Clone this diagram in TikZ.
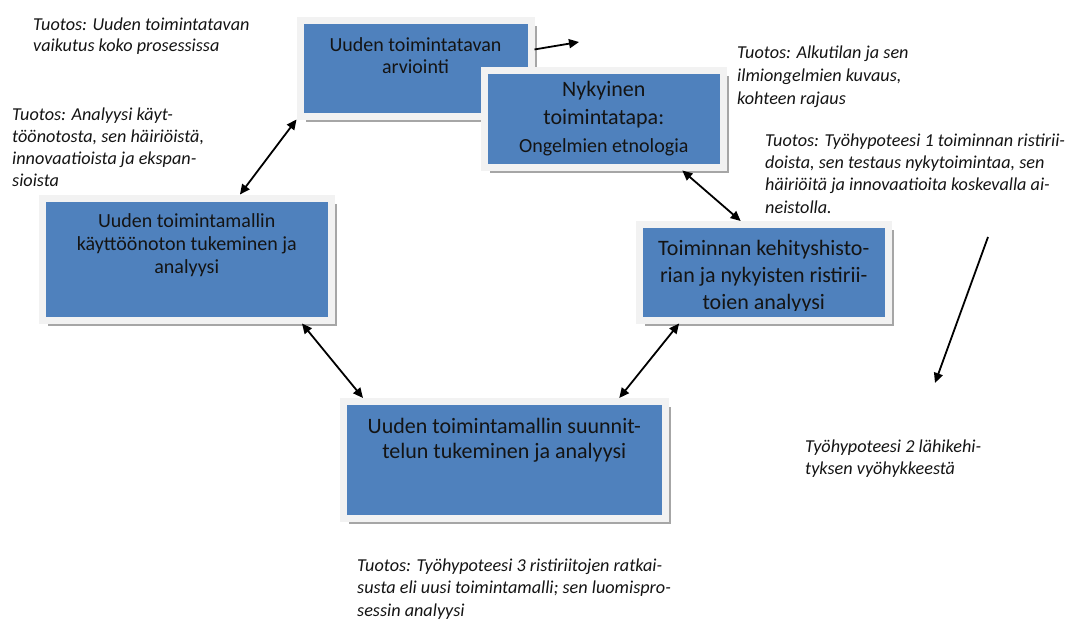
\documentclass[tikz,border=0pt]{standalone}
\usepackage{fontspec}
\setmainfont{Carlito}
\usetikzlibrary{calc,arrows.meta,shadows}
\definecolor{boxblue}{HTML}{4F81BD}
\definecolor{framegray}{HTML}{F2F2F2}
\definecolor{shadowgray}{HTML}{A6A6A6}
\definecolor{inktext}{HTML}{141414}
\begin{document}
\begin{tikzpicture}[x=1pt,y=-1pt,
  stagebox/.style={draw=framegray, line width=7pt, fill=boxblue, inner sep=0pt,
    general shadow={shadow xshift=5.5pt, shadow yshift=-5.5pt, fill=shadowgray}},
  boxtext/.style={align=center, anchor=base, inner sep=0pt, text=inktext},
  note/.style={align=left, anchor=base west, inner sep=0pt, text=inktext},
  link/.style={line width=1.8pt, {Triangle[length=10pt,width=9pt]}-{Triangle[length=10pt,width=9pt]}},
  onearrow/.style={line width=1.8pt, -{Triangle[length=10pt,width=9pt]}}]
\useasboundingbox[fill=white] (0,0) rectangle (1074,621);

% boxes
\node[stagebox, minimum width=231pt, minimum height=96pt] (b1) at (415.5,68) {};
\node[stagebox, minimum width=238.5pt, minimum height=97pt] (b2) at (603.75,118.5) {};
\node[stagebox, minimum width=288.5pt, minimum height=122pt] (bl) at (186.75,259) {};
\node[stagebox, minimum width=249.5pt, minimum height=95.5pt] (br) at (763.75,272.25) {};
\node[stagebox, minimum width=321.5pt, minimum height=117pt] (bb) at (504.25,460) {};

% box texts (positioned by the baseline of their last line)
\node[boxtext, font=\fontsize{20}{22}\selectfont] (t1) at (415.5,73) {Uuden toimintatavan\\arviointi};
\node[boxtext, font=\fontsize{22}{28}\selectfont] (t2) at (603.75,152) {Nykyinen\\toimintatapa:\\\fontsize{20}{24}\selectfont Ongelmien etnologia};
\node[boxtext, font=\fontsize{20}{23}\selectfont] (tl) at (186.75,273) {Uuden toimintamallin\\käyttöönoton tukeminen ja\\analyysi};
\begin{scope}
  \clip (600,230) rectangle (900,310.5);
  \node[boxtext, font=\fontsize{22}{27}\selectfont] (tr) at (763.75,309) {Toiminnan kehityshisto-\\rian ja nykyisten ristirii-\\toien analyysi};
\end{scope}
\node[boxtext, font=\fontsize{22}{25}\selectfont] (tb) at (504.25,458) {Uuden toimintamallin suunnit-\\telun tukeminen ja analyysi};

% annotations
\node[note, font=\itshape\fontsize{18.2}{21}\selectfont] (a1) at (33,51) {Tuotos: Uuden toimintatavan\\vaikutus koko prosessissa};
\node[note, font=\itshape\fontsize{18.2}{21.7}\selectfont] (a2) at (12,186) {Tuotos: Analyysi käyt-\\töönotosta, sen häiriöistä,\\innovaatioista ja ekspan-\\sioista};
\node[note, font=\itshape\fontsize{18.2}{23}\selectfont] (a3) at (737,104) {Tuotos: Alkutilan ja sen\\ilmiongelmien kuvaus,\\kohteen rajaus};
\node[note, font=\itshape\fontsize{18.2}{22.3}\selectfont] (a4) at (765,213) {Tuotos: Työhypoteesi 1 toiminnan ristirii-\\doista, sen testaus nykytoimintaa, sen\\häiriöitä ja innovaatioita koskevalla ai-\\neistolla.};
\node[note, font=\itshape\fontsize{18.2}{22}\selectfont] (a5) at (805,474) {Työhypoteesi 2 lähikehi-\\tyksen vyöhykkeestä};
\node[note, font=\itshape\fontsize{18.2}{22.5}\selectfont] (a6) at (357,616) {Tuotos: Työhypoteesi 3 ristiriitojen ratkai-\\susta eli uusi toimintamalli; sen luomispro-\\sessin analyysi};

% free arrow ends
\coordinate (out1) at (579,42);
\coordinate (zs) at (988,237);
\coordinate (ze) at (935,383);

% connectors
\draw[onearrow] ($(b1.north east)!0.32!(b1.south east)$) -- (out1);
\draw[link] ($(bl.north west)!0.68!(bl.north east)$) -- (b1.south west);
\draw[link] ($(b2.south west)!0.82!(b2.south east)$) -- ($(br.north west)!0.41!(br.north east)$);
\draw[link] ($(br.south west)!0.17!(br.south east)$) -- ($(bb.north west)!0.85!(bb.north east)$);
\draw[link] ($(bl.south west)!0.89!(bl.south east)$) -- ($(bb.north west)!0.07!(bb.north east)$);
\draw[onearrow] (zs) -- (ze);
\end{tikzpicture}
\end{document}
